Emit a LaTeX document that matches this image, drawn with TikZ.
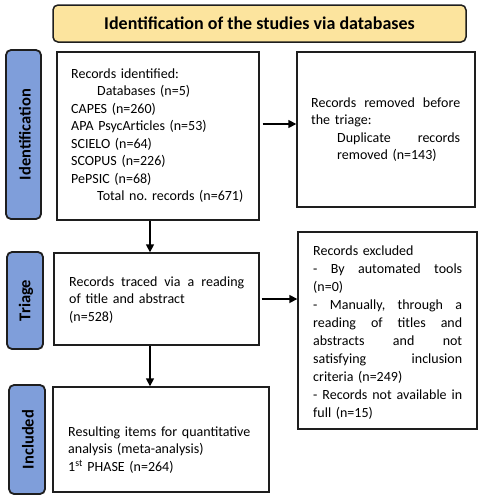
\documentclass[tikz,border=0pt]{standalone}
\usepackage{fontspec}
\setmainfont{Carlito}
\usetikzlibrary{arrows.meta}
\definecolor{ttlyellow}{HTML}{FCE49E}
\definecolor{sideblue}{HTML}{7F9EDA}
\definecolor{edgec}{HTML}{1E1E1E}
\newcommand{\jline}[2]{\leavevmode\hbox to #1{#2}}
\frenchspacing
\tikzset{
  box/.style={draw=edgec, line width=1.4pt, rectangle, inner sep=0pt},
  side/.style={draw=edgec, line width=1.8pt, fill=sideblue, rounded corners=5pt, inner sep=0pt},
  ttl/.style={draw=edgec, line width=1.5pt, fill=ttlyellow, rounded corners=5pt, inner sep=0pt,
    font=\fontsize{18}{21}\selectfont\bfseries},
  sidetxt/.style={rotate=90, font=\fontsize{16.5}{19}\selectfont\bfseries, inner sep=0pt},
  txt/.style={anchor=north west, inner sep=0pt, align=left, font=\fontsize{14}{17.5}\selectfont},
  arr/.style={line width=1.6pt, -{Triangle[length=8pt,width=8pt]}}
}
\begin{document}
\begin{tikzpicture}[x=1pt,y=-1pt]
\useasboundingbox (0,0) rectangle (480,498);
% title
\node[ttl, minimum width=413pt, minimum height=37pt] (title) at (259.5,23.5)
  {Identification of the studies via databases};
% side labels
\node[side, minimum width=35pt, minimum height=169pt] (sideid) at (23.5,134.5) {};
\node[sidetxt] (sideidt) at ([xshift=1.5pt]sideid.center) {Identification};
\node[side, minimum width=36pt, minimum height=97pt] (sidetr) at (25,300.5) {};
\node[sidetxt] (sidetrt) at ([xshift=1pt]sidetr.center) {Triage};
\node[side, minimum width=36pt, minimum height=109pt] (sidein) at (27,439.5) {};
\node[sidetxt] (sideint) at ([xshift=1pt]sidein.center) {Included};
% boxes
\node[box, minimum width=202pt, minimum height=168pt] (b1) at (158,136) {};
\node[box, minimum width=178pt, minimum height=155pt] (b2) at (386,129.5) {};
\node[box, minimum width=205pt, minimum height=92pt] (b3) at (156.5,299) {};
\node[box, minimum width=179pt, minimum height=197pt] (b4) at (387.5,330.5) {};
\node[box, minimum width=216pt, minimum height=105pt] (b5) at (161,439.5) {};
% texts
\node[txt, text width=180pt] (t1) at (71,68.5) {Records identified:\\
\hspace*{26pt}Databases (n=5)\\
CAPES (n=260)\\
APA PsycArticles (n=53)\\
SCIELO (n=64)\\
SCOPUS (n=226)\\
PePSIC (n=68)\\
\hspace*{26pt}Total no.\ records (n=671)};
\node[txt, text width=149pt] (t2) at (311,97.5) {\jline{149pt}{Records\hfill removed\hfill before}\\
the triage:\\
\hspace*{26pt}\jline{123pt}{Duplicate\hfill records}\\
\hspace*{26pt}removed (n=143)};
\node[txt, text width=175pt] (t3) at (69,276.5) {\jline{175pt}{Records\hfill traced\hfill via\hfill a\hfill reading}\\
of title and abstract\\
(n=528)};
\node[txt, text width=149pt, font=\fontsize{14}{18}\selectfont] (t4) at (313,245.5) {Records excluded\\
\jline{149pt}{-\hfill By\hfill automated\hfill tools}\\
(n=0)\\
\jline{149pt}{-\hfill Manually,\hfill through\hfill a}\\
\jline{149pt}{reading\hfill of\hfill titles\hfill and}\\
\jline{149pt}{abstracts\hfill and\hfill not}\\
\jline{149pt}{satisfying\hfill inclusion}\\
criteria (n=249)\\
\jline{149pt}{-\hfill Records\hfill not\hfill available\hfill in}\\
full (n=15)};
\node[txt, text width=200pt] (t5) at (68,426.5) {Resulting items for quantitative\\
analysis (meta-analysis)\\
1\textsuperscript{st} PHASE (n=264)};
% arrows
\draw[arr] ([xshift=-8pt]b1.south) -- ([xshift=-6.5pt]b3.north);
\draw[arr] ([xshift=-6.5pt]b3.south) -- ([xshift=-11pt]b5.north);
\draw[arr, shorten <=3pt] ([yshift=12pt]b1.east) -- ([yshift=5.5pt]b2.west);
\draw[arr, shorten <=2pt] (b3.east) -- ([yshift=31.5pt]b4.west);
\end{tikzpicture}
\end{document}
